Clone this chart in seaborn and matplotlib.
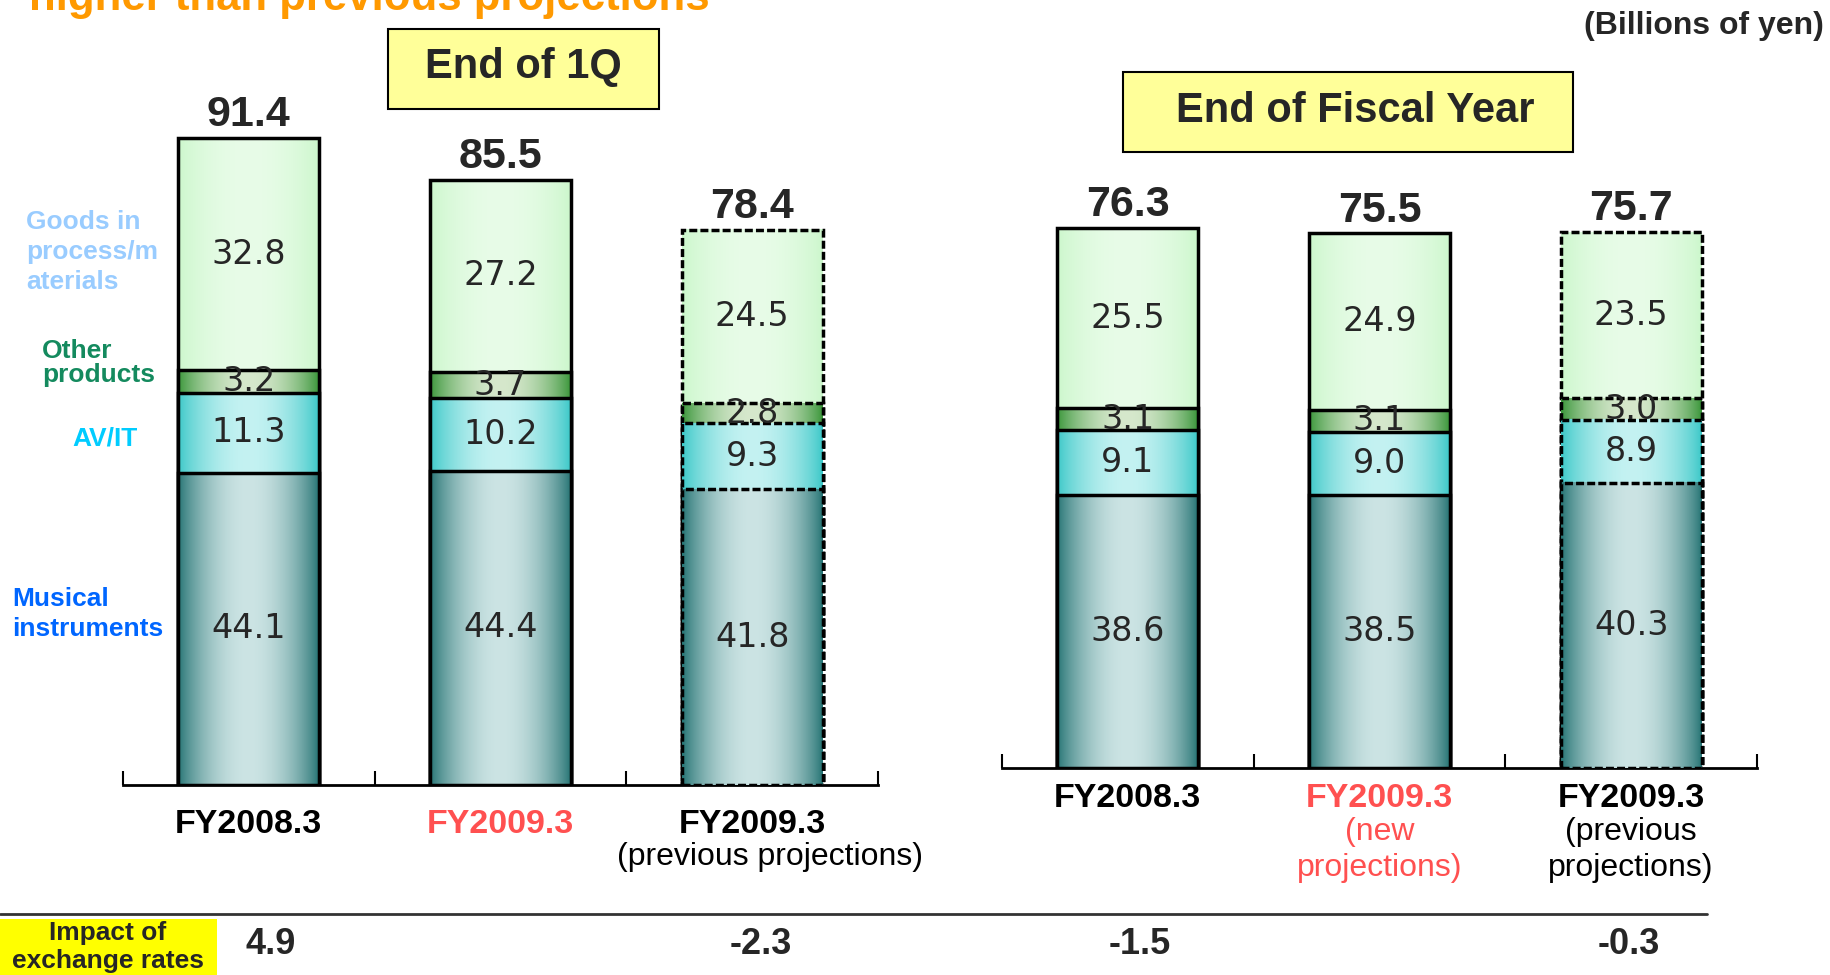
import numpy as np
import matplotlib
matplotlib.use("Agg")
import matplotlib.pyplot as plt
import matplotlib.colors as mcolors
from matplotlib.patches import Rectangle
from matplotlib.lines import Line2D
import seaborn as sns

sns.set_style("white")
plt.rcParams['font.family'] = ['Liberation Sans', 'DejaVu Sans']

# data (billions of yen), stacked bottom -> top
q1_musical = [44.1, 44.4, 41.8]
q1_avit = [11.3, 10.2, 9.3]
q1_other = [3.2, 3.7, 2.8]
q1_goods = [32.8, 27.2, 24.5]

fy_musical = [38.6, 38.5, 40.3]
fy_avit = [9.1, 9.0, 8.9]
fy_other = [3.1, 3.1, 3.0]
fy_goods = [25.5, 24.9, 23.5]

q1_labels = ['FY2008.3', 'FY2009.3', 'FY2009.3']
q1_sublabels = ['', '', '(previous projections)']
fy_labels = ['FY2008.3', 'FY2009.3', 'FY2009.3']
fy_sublabels = ['', '(new\nprojections)', '(previous\nprojections)']
label_colors = ['black', '#ff5050', 'black']
dashed = [False, False, True]

fx_impact = [4.9, -2.3, -1.5, -0.3]

# gradient colours per segment (edge, centre)
seg_colors = [('#267474', '#cce4e4'),
              ('#3cc8c8', '#c4f2f2'),
              ('#3a963a', '#d6e8cc'),
              ('#ccf7cc', '#e8fce8')]

W, H = 1831, 975


def fx(px):
    return px / W


def fy(py):
    return 1 - py / H


def gradient(edge, center, n=80):
    t = np.linspace(0, 1, n)
    w = np.sin(np.pi * t) ** 0.8
    e = np.array(mcolors.to_rgb(edge))
    c = np.array(mcolors.to_rgb(center))
    return (e[None, :] + (c - e)[None, :] * w[:, None])[None, :, :]


def draw_panel(ax, layers, labels, sublabels, pad, sub_offsets, sub_dx):
    cum = np.cumsum(np.array(layers), axis=0)
    n = len(layers)
    for k in range(n - 1, -1, -1):
        n0 = len(ax.patches)
        sns.barplot(x=[0, 1, 2], y=cum[k], width=0.56, ax=ax, color='white',
                    edgecolor='black', linewidth=2.5, errorbar=None)
        z = 2 + 2 * (n - k)
        grad = gradient(*seg_colors[k])
        for i, p in enumerate(ax.patches[n0:]):
            p.set_facecolor('none')
            p.set_zorder(z + 1)
            if dashed[i]:
                p.set_linestyle((0, (2.3, 0.9)))
            x0, w, h = p.get_x(), p.get_width(), p.get_height()
            ax.imshow(grad, extent=(x0, x0 + w, 0, h), aspect='auto',
                      zorder=z, interpolation='bilinear')
        for i in range(3):
            ax.text(i, cum[k][i] - layers[k][i] / 2, f'{layers[k][i]:.1f}',
                    ha='center', va='center', fontsize=24,
                    family='DejaVu Sans', zorder=20)

    for i in range(3):
        ax.annotate(f'{cum[-1][i]:.1f}', xy=(i, cum[-1][i]), xytext=(0, 16.5),
                    textcoords='offset points', ha='center', va='center',
                    fontsize=31, fontweight='bold')

    ax.set_xlim(-0.5, 2.5)
    ax.set_ylim(0, 100)
    ax.set_xticks([0, 1, 2], labels)
    ax.set_xticks([-0.5, 0.5, 1.5, 2.5], minor=True)
    ax.tick_params(axis='x', which='major', length=0, pad=pad, labelsize=24.5)
    ax.tick_params(axis='x', which='minor', direction='in', length=10,
                   width=1.5, color='black', bottom=True)
    for t, c in zip(ax.get_xticklabels(), label_colors):
        t.set_color(c)
        t.set_fontweight('bold')
    ax.set_yticks([])
    ax.set_xlabel('')
    ax.set_ylabel('')
    for s in ['left', 'top', 'right']:
        ax.spines[s].set_visible(False)
    ax.spines['bottom'].set_linewidth(2)
    ax.spines['bottom'].set_color('black')
    ax.patch.set_alpha(0)

    for i, sub in enumerate(sublabels):
        if sub:
            ax.annotate(sub, xy=(i, 0), xytext=(sub_dx[i], -sub_offsets[i]),
                        textcoords='offset points', ha='center', va='center',
                        fontsize=23, color=label_colors[i], linespacing=1.25)


fig = plt.figure(figsize=(W / 100, H / 100), dpi=100)
ax1 = fig.add_axes([fx(123), fy(785), 755 / W, 708 / H])
ax2 = fig.add_axes([fx(1002), fy(768), 755 / W, 708 / H])

draw_panel(ax1, [q1_musical, q1_avit, q1_other, q1_goods], q1_labels,
           q1_sublabels, 17, [0, 0, 52], [0, 0, 13])
draw_panel(ax2, [fy_musical, fy_avit, fy_other, fy_goods], fy_labels,
           fy_sublabels, 11, [0, 59, 59], [0, 0, 0])

# title (cut off at the top of the slide)
fig.text(fx(29), fy(10), 'higher than previous projections', ha='left',
         va='baseline', fontsize=31.5, fontweight='bold', color='#ff9900')
fig.text(fx(1824), fy(26), '(Billions of yen)', ha='right', va='center',
         fontsize=23, fontweight='bold')

# yellow section boxes
fig.patches.append(Rectangle((fx(388), fy(109)), 271 / W, 80 / H,
                             transform=fig.transFigure, facecolor='#ffff99',
                             edgecolor='black', linewidth=1.5))
fig.text(fx(523), fy(67), 'End of 1Q', ha='center', va='center',
         fontsize=30, fontweight='bold')
fig.patches.append(Rectangle((fx(1123), fy(152)), 450 / W, 80 / H,
                             transform=fig.transFigure, facecolor='#ffff99',
                             edgecolor='black', linewidth=1.5))
fig.text(fx(1355), fy(111), 'End of Fiscal Year', ha='center', va='center',
         fontsize=30, fontweight='bold')

# segment names on the left
fig.text(fx(26), fy(252), 'Goods in\nprocess/m\naterials', ha='left', va='center',
         fontsize=19, fontweight='bold', color='#99ccff', linespacing=1.3)
fig.text(fx(42), fy(363), 'Other\nproducts', ha='left', va='center',
         fontsize=19, fontweight='bold', color='#148a5e', linespacing=1.0)
fig.text(fx(72), fy(438), 'AV/IT', ha='left', va='center',
         fontsize=19, fontweight='bold', color='#00ccff')
fig.text(fx(12), fy(614), 'Musical\ninstruments', ha='left', va='center',
         fontsize=19, fontweight='bold', color='#0066ff', linespacing=1.34)

# exchange rate impact row
fig.lines.append(Line2D([0, fx(1707)], [fy(914), fy(914)],
                        transform=fig.transFigure, color='#333333', linewidth=2))
fig.patches.append(Rectangle((0, 0), fx(217), (H - 919) / H,
                             transform=fig.transFigure, facecolor='#ffff00',
                             edgecolor='none'))
fig.text(fx(108), fy(947), 'Impact of\nexchange rates', ha='center', va='center',
         fontsize=19, fontweight='bold', linespacing=1.25)
impact_axes = [(ax1, 0), (ax1, 2), (ax2, 0), (ax2, 2)]
impact_dx = [16, 6.5, 8.5, -1.5]
for (ax, i), v, dx in zip(impact_axes, fx_impact, impact_dx):
    ax.annotate(f'{v:.1f}', xy=(i, fy(945)), xycoords=('data', fig.transFigure),
                xytext=(dx, 0), textcoords='offset points', ha='center',
                va='center', fontsize=26, fontweight='bold', annotation_clip=False)

fig.savefig('out.png', dpi=100)
